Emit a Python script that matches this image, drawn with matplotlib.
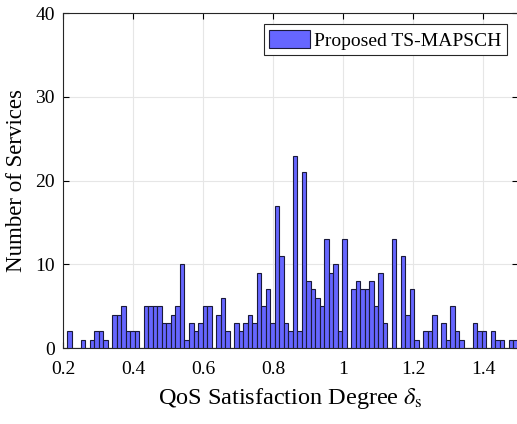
import numpy as np
import matplotlib
matplotlib.use('Agg')
import matplotlib.pyplot as plt

# histogram counts (100 bins, hist-style)
counts = [2, 0, 0, 1, 0, 1, 2, 2, 1, 0,
          4, 4, 5, 2, 2, 2, 0, 5, 5, 5,
          5, 3, 3, 4, 5, 10, 1, 3, 2, 3,
          5, 5, 0, 4, 6, 2, 0, 3, 2, 3,
          4, 3, 9, 5, 7, 3, 17, 11, 3, 2,
          23, 2, 21, 8, 7, 6, 5, 13, 9, 10,
          2, 13, 0, 7, 8, 7, 7, 8, 5, 9,
          3, 0, 13, 0, 11, 4, 7, 1, 0, 2,
          2, 4, 0, 3, 1, 5, 2, 1, 0, 0,
          3, 2, 2, 0, 2, 1, 1, 0, 1, 1]
bin_lo = 0.2123
bin_hi = 1.5
x_ticks = [0.2, 0.4, 0.6, 0.8, 1.0, 1.2, 1.4]
x_ticklabels = ['0.2', '0.4', '0.6', '0.8', '1', '1.2', '1.4']
y_ticks = [0, 10, 20, 30, 40]
legend_label = 'Proposed TS-MAPSCH'

plt.rcParams['font.family'] = ['Liberation Serif', 'DejaVu Serif']
plt.rcParams['mathtext.fontset'] = 'stix'

edges = np.linspace(bin_lo, bin_hi, len(counts) + 1)
width = edges[1] - edges[0]

fig = plt.figure(figsize=(5.17, 4.24), dpi=100)
ax = fig.add_axes([0.1219, 0.179, 0.880, 0.790])

ax.bar(edges[:-1], counts, width=width, align='edge',
       facecolor='#6666ff', edgecolor='#1a1a3a', linewidth=0.8,
       label=legend_label, zorder=3)

ax.set_xlim(0.2, 1.5)
ax.set_ylim(0, 40)
ax.set_xticks(x_ticks)
ax.set_xticklabels(x_ticklabels)
ax.set_yticks(y_ticks)
ax.tick_params(direction='in', top=True, right=True, labelsize=14,
               length=4, width=0.8)
ax.tick_params(axis='x', pad=9)
ax.tick_params(axis='y', pad=6)
ax.grid(True, color='#e6e6e6', linewidth=0.8, zorder=0)
for s in ax.spines.values():
    s.set_linewidth(0.8)
    s.set_color('#262626')

ax.set_xlabel(r'QoS Satisfaction Degree $\delta_{\mathrm{s}}$', fontsize=17.5, labelpad=6)
ax.set_ylabel('Number of Services', fontsize=16.5, labelpad=6)

leg = ax.legend(loc='upper right', fontsize=14, fancybox=False,
                edgecolor='#262626', framealpha=1, borderpad=0.3,
                handlelength=2.1, handleheight=1.1, handletextpad=0.2,
                borderaxespad=0.55)
leg.get_frame().set_linewidth(0.8)

fig.savefig('out.png', dpi=100)
